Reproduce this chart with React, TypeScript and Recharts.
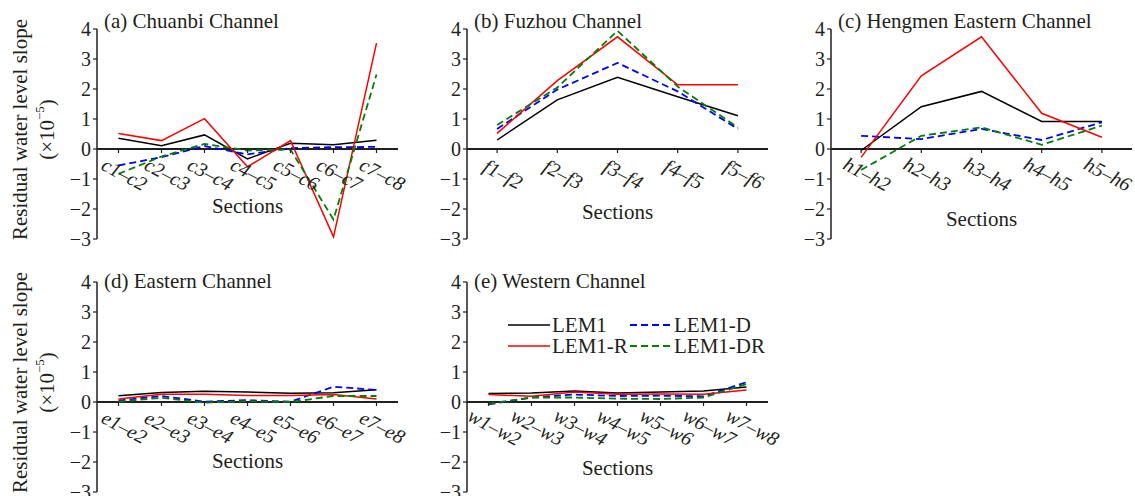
import React from "react";
import { Legend, Line, LineChart, ReferenceLine, XAxis, YAxis } from "recharts";

const FONT = "'Liberation Serif', 'Times New Roman', serif";
const INK = "#231f20";

const Y_MIN = -3;
const Y_MAX = 4;
const Y_TICKS = [-3, -2, -1, 0, 1, 2, 3, 4];

// (a) Chuanbi Channel
const chuanbiSections = ["c1–c2", "c2–c3", "c3–c4", "c4–c5", "c5–c6", "c6–c7", "c7–c8"];
const chuanbiLEM1 = [0.36, 0.11, 0.47, -0.33, 0.19, 0.14, 0.29];
const chuanbiLEM1D = [-0.55, -0.27, 0.1, -0.18, 0.03, 0.06, 0.07];
const chuanbiLEM1R = [0.52, 0.28, 1.01, -0.59, 0.28, -2.93, 3.53];
const chuanbiLEM1DR = [-0.83, -0.25, 0.17, -0.05, -0.02, -2.35, 2.48];

// (b) Fuzhou Channel
const fuzhouSections = ["f1–f2", "f2–f3", "f3–f4", "f4–f5", "f5–f6"];
const fuzhouLEM1 = [0.3, 1.64, 2.39, 1.74, 1.11];
const fuzhouLEM1D = [0.67, 1.98, 2.87, 1.92, 0.67];
const fuzhouLEM1R = [0.52, 2.28, 3.74, 2.14, 2.14];
const fuzhouLEM1DR = [0.8, 2.05, 3.94, 2.08, 0.72];

// (c) Hengmen Eastern Channel
const hengmenSections = ["h1–h2", "h2–h3", "h3–h4", "h4–h5", "h5–h6"];
const hengmenLEM1 = [-0.05, 1.41, 1.92, 0.92, 0.92];
const hengmenLEM1D = [0.44, 0.33, 0.67, 0.3, 0.89];
const hengmenLEM1R = [-0.28, 2.44, 3.74, 1.19, 0.39];
const hengmenLEM1DR = [-0.7, 0.44, 0.72, 0.14, 0.78];

// (d) Eastern Channel
const easternSections = ["e1–e2", "e2–e3", "e3–e4", "e4–e5", "e5–e6", "e6–e7", "e7–e8"];
const easternLEM1 = [0.21, 0.32, 0.36, 0.33, 0.29, 0.31, 0.41];
const easternLEM1D = [0.05, 0.2, 0.01, 0.06, 0.01, 0.51, 0.4];
const easternLEM1R = [0.1, 0.26, 0.26, 0.22, 0.22, 0.25, 0.1];
const easternLEM1DR = [0.01, 0.14, -0.02, 0.03, 0.0, 0.2, 0.2];

// (e) Western Channel
const westernSections = ["w1–w2", "w2–w3", "w3–w4", "w4–w5", "w5–w6", "w6–w7", "w7–w8"];
const westernLEM1 = [0.28, 0.3, 0.37, 0.3, 0.33, 0.37, 0.5];
const westernLEM1D = [-0.08, 0.15, 0.25, 0.2, 0.21, 0.19, 0.66];
const westernLEM1R = [0.25, 0.19, 0.33, 0.26, 0.27, 0.26, 0.4];
const westernLEM1DR = [-0.06, 0.15, 0.15, 0.11, 0.1, 0.15, 0.6];

const SERIES = [
  { key: "LEM1", color: "#000000", dash: undefined, width: 1.5 },
  { key: "LEM1-D", color: "#0000ff", dash: "7 4", width: 1.8 },
  { key: "LEM1-R", color: "#ff0000", dash: undefined, width: 1.5 },
  { key: "LEM1-DR", color: "#008000", dash: "7 4", width: 1.8 },
];

const toRows = (sections, a, d, r, dr) =>
  sections.map((s, i) => ({ section: s, LEM1: a[i], "LEM1-D": d[i], "LEM1-R": r[i], "LEM1-DR": dr[i] }));

const PLOT_W = 301;
const PLOT_H = 210;
const AXIS_W = 30;
const ZERO_FROM_BOTTOM = (PLOT_H * (0 - Y_MIN)) / (Y_MAX - Y_MIN);

const PANELS = [
  { title: "(a) Chuanbi Channel", rows: toRows(chuanbiSections, chuanbiLEM1, chuanbiLEM1D, chuanbiLEM1R, chuanbiLEM1DR), plotX: 97, plotY: 28.5, yTitle: true, titleDy: -1.5, sectionsDy: 57 },
  { title: "(b) Fuzhou Channel", rows: toRows(fuzhouSections, fuzhouLEM1, fuzhouLEM1D, fuzhouLEM1R, fuzhouLEM1DR), plotX: 467, plotY: 28.5, titleDy: -1.5, sectionsDy: 63 },
  { title: "(c) Hengmen Eastern Channel", rows: toRows(hengmenSections, hengmenLEM1, hengmenLEM1D, hengmenLEM1R, hengmenLEM1DR), plotX: 831, plotY: 28.5, titleDy: -1.5, sectionsDy: 70 },
  { title: "(d) Eastern Channel", rows: toRows(easternSections, easternLEM1, easternLEM1D, easternLEM1R, easternLEM1DR), plotX: 97, plotY: 282, yTitle: true, titleDy: 6, sectionsDy: 59 },
  { title: "(e) Western Channel", rows: toRows(westernSections, westernLEM1, westernLEM1D, westernLEM1R, westernLEM1DR), plotX: 467, plotY: 282, titleDy: 6, sectionsDy: 66, legend: true },
];

const LEGEND_SLOTS = {
  LEM1: { x: 0, y: 11 },
  "LEM1-D": { x: 122, y: 11 },
  "LEM1-R": { x: 0, y: 32 },
  "LEM1-DR": { x: 122, y: 32 },
};

function renderLegend(props) {
  const payload = props.payload || [];
  return (
    <svg width={270} height={44} style={{ overflow: "visible" }}>
      {payload.map((p) => {
        const slot = LEGEND_SLOTS[p.dataKey];
        const s = SERIES.find((e) => e.key === p.dataKey);
        if (!slot || !s) return null;
        return (
          <g key={p.dataKey}>
            <line x1={slot.x} y1={slot.y} x2={slot.x + 42} y2={slot.y} stroke={s.color} strokeWidth={s.width} strokeDasharray={s.dash} />
            <text x={slot.x + 44} y={slot.y + 7} fontSize={21} fontFamily={FONT} fill={INK}>
              {p.value}
            </text>
          </g>
        );
      })}
    </svg>
  );
}

function XTick(props) {
  const { x, y, payload } = props;
  const zy = y - ZERO_FROM_BOTTOM;
  const lx = x + 6;
  const ly = zy + 25;
  return (
    <g>
      <line x1={x} y1={zy} x2={x} y2={zy + 4} stroke={INK} strokeWidth={1.2} />
      <text
        x={lx}
        y={ly}
        transform={`rotate(28 ${lx} ${ly})`}
        textAnchor="middle"
        dominantBaseline="central"
        fontStyle="italic"
        fontSize={20}
        fontFamily={FONT}
        fill={INK}
      >
        {payload.value}
      </text>
    </g>
  );
}

function Panel({ panel }) {
  const leftSpace = panel.yTitle ? panel.plotX : 60;
  const top = 32;
  const width = leftSpace + PLOT_W + 6;
  const height = top + PLOT_H + 6;
  const n = panel.rows.length;
  const pad = PLOT_W / (2 * n);

  const titleLabel = (p) => {
    const vb = p.viewBox;
    const cy = vb.y + 100.5;
    return (
      <g fontFamily={FONT} fill={INK}>
        <text x={vb.x + vb.width + 7} y={vb.y + panel.titleDy} fontSize={21}>
          {panel.title}
        </text>
        {panel.yTitle && (
          <>
            <text x={20} y={cy} transform={`rotate(-90 20 ${cy})`} textAnchor="middle" dominantBaseline="central" fontSize={21}>
              Residual water level slope
            </text>
            <text x={47} y={cy} transform={`rotate(-90 47 ${cy})`} textAnchor="middle" dominantBaseline="central" fontSize={21}>
              (×10
              <tspan dy={-8} fontSize={13}>
                −5
              </tspan>
              <tspan dy={8}>)</tspan>
            </text>
          </>
        )}
      </g>
    );
  };

  const sectionsLabel = (p) => {
    const vb = p.viewBox;
    return (
      <text
        x={vb.x + vb.width / 2}
        y={vb.y - ZERO_FROM_BOTTOM + panel.sectionsDy}
        textAnchor="middle"
        dominantBaseline="central"
        fontSize={21}
        fontFamily={FONT}
        fill={INK}
      >
        Sections
      </text>
    );
  };

  return (
    <div style={{ position: "absolute", left: panel.plotX - leftSpace, top: panel.plotY - top }}>
      <LineChart
        width={width}
        height={height}
        data={panel.rows}
        margin={{ top, right: 6, bottom: 5, left: leftSpace - AXIS_W }}
      >
        <XAxis
          dataKey="section"
          height={1}
          axisLine={false}
          tickLine={false}
          tickSize={0}
          tickMargin={0}
          interval={0}
          padding={{ left: pad, right: pad }}
          tick={(p) => <XTick {...p} />}
          label={sectionsLabel}
        />
        <YAxis
          type="number"
          domain={[Y_MIN, Y_MAX]}
          ticks={Y_TICKS}
          interval={0}
          allowDataOverflow
          width={AXIS_W}
          axisLine={{ stroke: INK, strokeWidth: 1.5 }}
          tickLine={{ stroke: INK, strokeWidth: 1.2 }}
          tickSize={4}
          tickMargin={2}
          tick={{ fill: INK, fontSize: 20, fontFamily: FONT }}
          tickFormatter={(v) => String(v).replace("-", "−")}
          label={titleLabel}
        />
        <ReferenceLine y={0} stroke={INK} strokeWidth={1.8} />
        {SERIES.map((s) => (
          <Line
            key={s.key}
            type="linear"
            dataKey={s.key}
            name={s.key}
            stroke={s.color}
            strokeWidth={s.width}
            strokeDasharray={s.dash}
            dot={false}
            activeDot={false}
            isAnimationActive={false}
          />
        ))}
        {panel.legend && (
          <Legend
            layout="horizontal"
            verticalAlign="middle"
            align="center"
            content={renderLegend}
            wrapperStyle={{ position: "absolute", left: 508 - (panel.plotX - leftSpace), top: 314 - (panel.plotY - top), width: 270, height: 44 }}
          />
        )}
      </LineChart>
    </div>
  );
}

export default function App() {
  return (
    <div style={{ position: "absolute", left: 0, top: 0, width: 1135, height: 496, background: "#fff", overflow: "hidden", fontFamily: FONT }}>
      <style>{`.recharts-surface{overflow:visible}`}</style>
      {PANELS.map((p) => (
        <Panel key={p.title} panel={p} />
      ))}
    </div>
  );
}
